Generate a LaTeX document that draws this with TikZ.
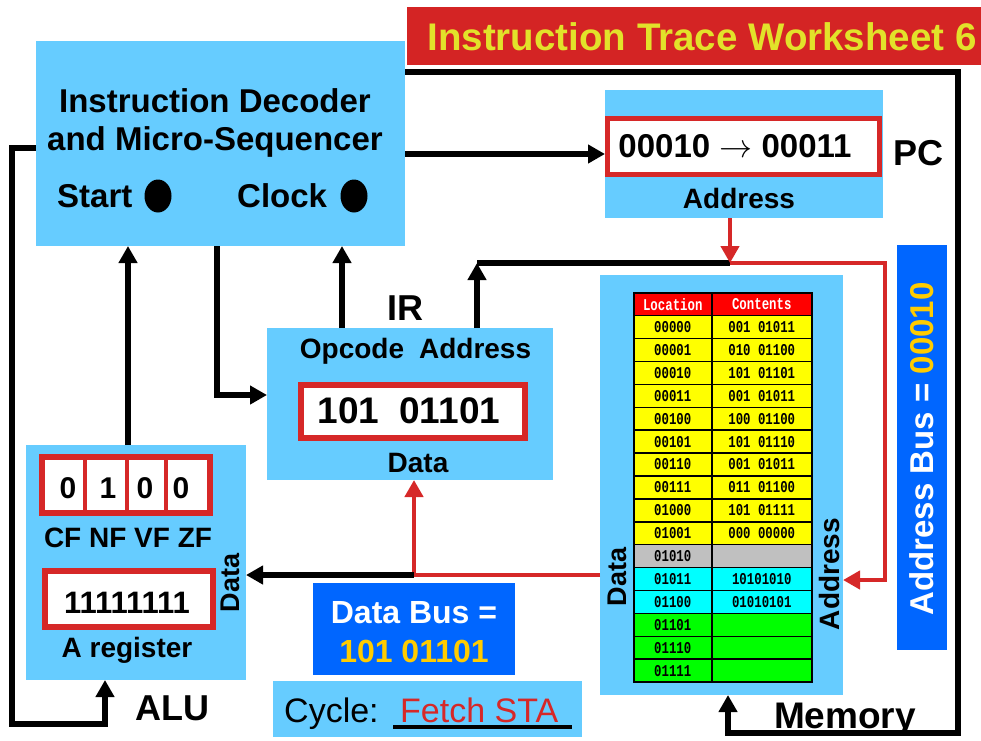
\RequirePackage{fix-cm}
\documentclass[tikz,border=0pt]{standalone}
\usepackage{fontspec}
\setmainfont{Liberation Sans}
\newfontfamily\monof[FakeStretch=0.75]{Liberation Mono}
\usetikzlibrary{arrows.meta,shapes.geometric}
\newcommand\myfs[1]{\fontsize{#1}{#1}\selectfont}
\definecolor{lblue}{HTML}{66CCFF}
\definecolor{dblue}{HTML}{0066FF}
\definecolor{tred}{HTML}{D42424}
\definecolor{bred}{HTML}{D62828}
\definecolor{tyel}{HTML}{E2E22A}
\definecolor{byel}{HTML}{FFCC00}
\definecolor{hdred}{HTML}{FF0000}
\definecolor{tyellow}{HTML}{FFFF00}
\definecolor{tgrey}{HTML}{C0C0C0}
\definecolor{tcyan}{HTML}{00FFFF}
\definecolor{tgreen}{HTML}{00FF00}
\begin{document}
\begin{tikzpicture}[x=1pt,y=-1pt,
  wire/.style={line width=5.5pt},
  rwire/.style={line width=4.5pt, draw=bred},
  tip/.style={-{Triangle[length=17pt,width=18pt]}},
  blk/.style={fill=lblue, inner sep=0, outer sep=0, anchor=north west},
  rbx/.style={draw=bred, fill=white, inner sep=0, outer sep=0, anchor=north west},
  lab/.style={inner sep=0, anchor=base},
  cell/.style={draw=black, line width=1.5pt, anchor=north west, minimum width=78pt, minimum height=22.9pt, inner sep=0, font=\monof\bfseries\myfs{16.5}}]
\useasboundingbox (0,0) rectangle (981,740);

% title
\node[fill=tred, inner sep=0, anchor=north west, minimum width=574pt, minimum height=58pt] (title) at (407,7) {};
\node[lab, text=tyel, font=\bfseries\myfs{38.5}] (titletxt) at (702,50) {Instruction Trace Worksheet 6};

% decoder
\node[blk, minimum width=369pt, minimum height=205pt] (dec) at (36,41) {};
\node[lab, font=\bfseries\myfs{33}] (dec1) at (215,112) {Instruction Decoder};
\node[lab, font=\bfseries\myfs{33}] (dec2) at (215,150) {and Micro-Sequencer};
\node[lab, anchor=base west, font=\bfseries\myfs{33}] (start) at (57,207) {Start};
\node[ellipse, fill=black, inner sep=0, minimum width=27pt, minimum height=33pt] (sbul) at (158,196) {};
\node[lab, anchor=base west, font=\bfseries\myfs{33}] (clock) at (237,207) {Clock};
\node[ellipse, fill=black, inner sep=0, minimum width=27pt, minimum height=33pt] (cbul) at (354,196) {};

% PC
\node[blk, minimum width=278pt, minimum height=128pt] (pc) at (605,90) {};
\node[rbx, line width=5pt, minimum width=272pt, minimum height=56pt] (pcreg) at (607.5,118.5) {};
\node[lab, font=\bfseries\myfs{33}] (pcval) at (735,157) {00010 $\rightarrow$ 00011};
\node[lab, font=\bfseries\myfs{28}] (pcaddr) at (739,208) {Address};
\node[lab, font=\bfseries\myfs{36}] (pclab) at (918,165) {PC};

% IR
\node[blk, minimum width=286pt, minimum height=152pt] (ir) at (267,328) {};
\node[lab, font=\bfseries\myfs{28}] (irhead) at (415.5,358) {Opcode\hspace{15pt}Address};
\node[rbx, line width=6pt, minimum width=224pt, minimum height=53pt] (irreg) at (301,385) {};
\node[lab, font=\bfseries\myfs{37}] (irval) at (409,423) {101\hspace{20pt}01101};
\node[lab, font=\bfseries\myfs{28}] (irdata) at (418,472) {Data};
\node[lab, font=\bfseries\myfs{36}] (irlab) at (405,320) {IR};

% ALU
\node[blk, minimum width=220pt, minimum height=235pt] (alu) at (26,445) {};
\node[rbx, line width=6pt, minimum width=168pt, minimum height=56pt] (flags) at (42,457) {};
\draw[draw=bred, line width=4pt] (85,457) -- (85,513) (127,457) -- (127,513) (166,457) -- (166,513);
\node[lab, font=\bfseries\myfs{30}] (cf) at (68,498) {0};
\node[lab, font=\bfseries\myfs{30}] (nf) at (108,498) {1};
\node[lab, font=\bfseries\myfs{30}] (vf) at (145,498) {0};
\node[lab, font=\bfseries\myfs{30}] (zf) at (181,498) {0};
\node[lab, font=\bfseries\myfs{28}] (flagnames) at (128,547) {CF NF VF ZF};
\node[rbx, line width=6pt, minimum width=168pt, minimum height=56pt] (areg) at (45,571) {};
\node[lab, font=\bfseries\myfs{31}] (aval) at (127,613) {11111111};
\node[lab, font=\bfseries\myfs{28}] (aname) at (127,657) {A register};
\node[inner sep=0, rotate=90, font=\bfseries\myfs{27}] (aludata) at (230,583) {Data};
\node[lab, anchor=base west, font=\bfseries\myfs{36}] (alulab) at (135,720) {ALU};

% Memory
\node[blk, minimum width=243pt, minimum height=420pt] (mem) at (600,275) {};
\node[cell, fill=hdred, text=white] (hloc) at (633,292) {Location};
\node[cell, fill=hdred, text=white, minimum width=100pt] (hcon) at (711,292) {Contents};
\foreach \la/\co/\cl [count=\i from 1] in {
  00000/001 01011/tyellow, 00001/010 01100/tyellow, 00010/101 01101/tyellow,
  00011/001 01011/tyellow, 00100/100 01100/tyellow, 00101/101 01110/tyellow,
  00110/001 01011/tyellow, 00111/011 01100/tyellow, 01000/101 01111/tyellow,
  01001/000 00000/tyellow, 01010/{}/tgrey, 01011/10101010/tcyan,
  01100/01010101/tcyan, 01101/{}/tgreen, 01110/{}/tgreen, 01111/{}/tgreen}{
  \node[cell, fill=\cl] (loc\i) at (633,{292+\i*22.9}) {\la};
  \node[cell, fill=\cl, minimum width=100pt] (con\i) at (711,{292+\i*22.9}) {\co};
}
\node[inner sep=0, rotate=90, font=\bfseries\myfs{27}] (memdata) at (617,577) {Data};
\node[inner sep=0, rotate=90, font=\bfseries\myfs{28}] (memaddr) at (829,574) {Address};
\node[lab, font=\bfseries\myfs{37}] (memlab) at (845,728) {Memory};

% Address bus
\node[fill=dblue, inner sep=0, anchor=north west, minimum width=50pt, minimum height=405pt] (abus) at (897,245) {};
\node[inner sep=0, rotate=90, text=white, font=\bfseries\myfs{33}] (abustxt) at (922,449) {Address Bus = \textcolor{byel}{00010}};

% Data bus
\node[fill=dblue, inner sep=0, anchor=north west, minimum width=202pt, minimum height=92pt] (dbus) at (313,583) {};
\node[lab, text=white, font=\bfseries\myfs{32}] (dbus1) at (414,623) {Data Bus =};
\node[lab, text=byel, font=\bfseries\myfs{32}] (dbus2) at (414,662) {101 01101};

% Cycle
\node[blk, minimum width=309pt, minimum height=56pt] (cyc) at (273,681) {};
\node[lab, anchor=base west, font=\myfs{34}] (cyctxt) at (284,722) {Cycle:};
\node[lab, anchor=base west, text=bred, font=\myfs{34}] (fetch) at (400,722) {Fetch STA};
\draw[line width=4pt] (393,727) -- (572,727);

% coordinates
\coordinate (tr) at (958,72);
\coordinate (br) at (958,733);
\coordinate (ma) at (728,733);
\coordinate (ll) at (12,148);
\coordinate (bl) at (12,724);
\coordinate (ba) at (105,724);
\coordinate (au) at (128,445);
\coordinate (di) at (217,395);
\coordinate (io) at (342,328);
\coordinate (ia) at (477,263);
\coordinate (ajn) at (730,263);
\coordinate (ar1) at (885,263);
\coordinate (ar2) at (885,580);
\coordinate (dj) at (414,575);

% black connectors
\draw[wire,tip] (pc.west -| dec.east) -- (pc.west);
\draw[wire,tip] (dec.east |- tr) -- (tr) -- (br) -- (ma) -- (ma |- mem.south);
\draw[wire,tip] (dec.west |- ll) -- (ll) -- (bl) -- (ba) -- (ba |- alu.south);
\draw[wire,tip] (au) -- (au |- dec.south);
\draw[wire,tip] (di |- dec.south) -- (di) -- (di -| ir.west);
\draw[wire,tip] (io) -- (io |- dec.south);
\draw[wire] (ia) -- (ajn);
\draw[wire,tip] (ia |- ir.north) -- (ia);

% red connectors
\draw[rwire,tip] (pc.south -| ajn) -- (ajn);
\draw[rwire,tip] (ajn) -- (ar1) -- (ar2) -- (ar2 -| mem.east);
\draw[rwire] (dj -| mem.west) -- (dj);
\draw[rwire,tip] (dj) -- (dj |- ir.south);
\draw[wire,tip] (dj) -- (dj -| alu.east);
\end{tikzpicture}
\end{document}
